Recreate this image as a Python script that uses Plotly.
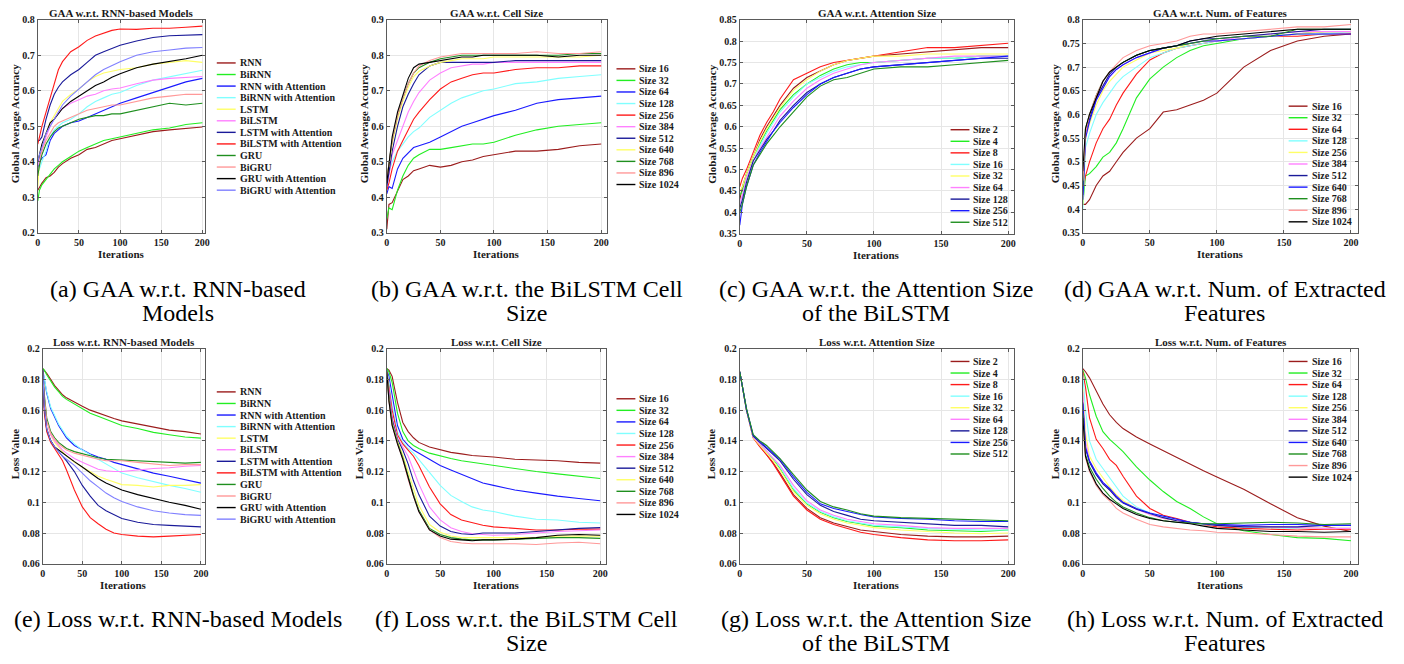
import plotly.graph_objects as go

W, H = 1404, 664
SERIF = "Liberation Serif"

ITER = [0, 2, 5, 10, 15, 20, 25, 30, 40, 50, 60, 70, 80, 90, 100, 120, 140, 160, 180, 200]

# ---------- series names ----------
MODEL_NAMES = ["RNN", "BiRNN", "RNN with Attention", "BiRNN with Attention", "LSTM", "BiLSTM",
               "LSTM with Attention", "BiLSTM with Attention", "GRU", "BiGRU",
               "GRU with Attention", "BiGRU with Attention"]
CELL_NAMES = ["Size 16", "Size 32", "Size 64", "Size 128", "Size 256", "Size 384", "Size 512",
              "Size 640", "Size 768", "Size 896", "Size 1024"]
ATT_NAMES = ["Size 2", "Size 4", "Size 8", "Size 16", "Size 32", "Size 64", "Size 128",
             "Size 256", "Size 512"]
FEAT_NAMES = CELL_NAMES

# ---------- colours ----------
DRED, BGREEN, BLUE, CYAN, YELLOW, MAGENTA = "#9b1c1c", "#22ee22", "#1a1aff", "#80ffff", "#ffff66", "#ff80ff"
NAVY, RED, DGREEN, PINK, BLACK, PERI = "#1a1a99", "#ff1a1a", "#1f8f1f", "#ff9999", "#000000", "#8080ff"
MODEL_COLORS = [DRED, BGREEN, BLUE, CYAN, YELLOW, MAGENTA, NAVY, RED, DGREEN, PINK, BLACK, PERI]
CELL_COLORS = [DRED, BGREEN, BLUE, CYAN, RED, MAGENTA, NAVY, YELLOW, DGREEN, PINK, BLACK]
ATT_COLORS = [DRED, BGREEN, RED, CYAN, YELLOW, MAGENTA, NAVY, BLUE, DGREEN]
FEAT_COLORS = [DRED, BGREEN, RED, CYAN, YELLOW, MAGENTA, NAVY, BLUE, DGREEN, PINK, BLACK]

# ---------- (a) GAA w.r.t. RNN-based models ----------
A_RNN = [0.32, 0.33, 0.34, 0.355, 0.36, 0.37, 0.385, 0.395, 0.41, 0.42, 0.435, 0.44, 0.45, 0.46, 0.465, 0.475, 0.485, 0.49, 0.495, 0.498]
A_BIRNN = [0.29, 0.32, 0.335, 0.35, 0.365, 0.38, 0.39, 0.40, 0.415, 0.43, 0.44, 0.45, 0.46, 0.465, 0.47, 0.48, 0.49, 0.495, 0.505, 0.51]
A_RNN_ATT = [0.38, 0.40, 0.41, 0.42, 0.46, 0.48, 0.49, 0.50, 0.51, 0.515, 0.525, 0.535, 0.545, 0.555, 0.565, 0.58, 0.595, 0.61, 0.625, 0.635]
A_BIRNN_ATT = [0.37, 0.38, 0.40, 0.43, 0.47, 0.49, 0.50, 0.51, 0.52, 0.535, 0.555, 0.57, 0.58, 0.59, 0.595, 0.615, 0.63, 0.64, 0.65, 0.658]
A_LSTM = [0.33, 0.40, 0.44, 0.48, 0.51, 0.53, 0.55, 0.57, 0.59, 0.605, 0.625, 0.64, 0.65, 0.655, 0.66, 0.665, 0.675, 0.68, 0.685, 0.68]
A_BILSTM = [0.39, 0.40, 0.43, 0.47, 0.50, 0.52, 0.54, 0.55, 0.565, 0.575, 0.585, 0.59, 0.60, 0.605, 0.608, 0.62, 0.63, 0.635, 0.638, 0.64]
A_LSTM_ATT = [0.46, 0.46, 0.47, 0.52, 0.56, 0.59, 0.61, 0.625, 0.645, 0.66, 0.68, 0.70, 0.71, 0.72, 0.728, 0.74, 0.75, 0.755, 0.757, 0.758]
A_BILSTM_ATT = [0.45, 0.47, 0.50, 0.54, 0.58, 0.62, 0.659, 0.682, 0.71, 0.724, 0.742, 0.754, 0.763, 0.77, 0.774, 0.773, 0.776, 0.776, 0.779, 0.782]
A_GRU = [0.36, 0.39, 0.42, 0.45, 0.47, 0.485, 0.495, 0.50, 0.51, 0.52, 0.525, 0.53, 0.53, 0.535, 0.535, 0.545, 0.555, 0.565, 0.56, 0.565]
A_BIGRU = [0.40, 0.41, 0.43, 0.46, 0.48, 0.50, 0.51, 0.515, 0.525, 0.535, 0.545, 0.55, 0.555, 0.56, 0.56, 0.57, 0.58, 0.585, 0.59, 0.59]
A_GRU_ATT = [0.40, 0.42, 0.45, 0.48, 0.51, 0.52, 0.535, 0.55, 0.57, 0.585, 0.60, 0.615, 0.625, 0.638, 0.648, 0.665, 0.675, 0.682, 0.69, 0.70]
A_BIGRU_ATT = [0.40, 0.42, 0.44, 0.48, 0.50, 0.52, 0.54, 0.56, 0.585, 0.605, 0.625, 0.645, 0.66, 0.672, 0.682, 0.70, 0.71, 0.715, 0.72, 0.722]

# ---------- (b) GAA w.r.t. cell size ----------
B_16 = [0.31, 0.38, 0.385, 0.42, 0.45, 0.46, 0.475, 0.48, 0.49, 0.485, 0.49, 0.50, 0.505, 0.515, 0.52, 0.53, 0.53, 0.535, 0.545, 0.55]
B_32 = [0.34, 0.37, 0.365, 0.42, 0.46, 0.49, 0.51, 0.52, 0.535, 0.535, 0.54, 0.545, 0.55, 0.55, 0.555, 0.575, 0.59, 0.60, 0.605, 0.61]
B_64 = [0.41, 0.43, 0.425, 0.48, 0.51, 0.525, 0.54, 0.545, 0.555, 0.57, 0.585, 0.60, 0.61, 0.62, 0.63, 0.645, 0.665, 0.675, 0.68, 0.685]
B_128 = [0.42, 0.47, 0.50, 0.53, 0.55, 0.57, 0.585, 0.595, 0.625, 0.645, 0.665, 0.68, 0.69, 0.70, 0.705, 0.72, 0.725, 0.735, 0.74, 0.745]
B_256 = [0.42, 0.44, 0.48, 0.53, 0.56, 0.59, 0.62, 0.64, 0.675, 0.705, 0.725, 0.735, 0.745, 0.75, 0.75, 0.76, 0.765, 0.765, 0.77, 0.77]
B_384 = [0.43, 0.46, 0.52, 0.56, 0.60, 0.64, 0.67, 0.695, 0.73, 0.75, 0.765, 0.77, 0.775, 0.775, 0.78, 0.78, 0.78, 0.78, 0.78, 0.78]
B_512 = [0.43, 0.47, 0.53, 0.60, 0.655, 0.69, 0.72, 0.745, 0.77, 0.78, 0.78, 0.78, 0.78, 0.78, 0.78, 0.785, 0.785, 0.785, 0.785, 0.785]
B_640 = [0.46, 0.49, 0.55, 0.62, 0.67, 0.71, 0.74, 0.755, 0.77, 0.78, 0.785, 0.79, 0.79, 0.79, 0.795, 0.795, 0.795, 0.795, 0.795, 0.80]
B_768 = [0.45, 0.50, 0.56, 0.63, 0.68, 0.72, 0.75, 0.765, 0.78, 0.79, 0.795, 0.80, 0.80, 0.80, 0.80, 0.80, 0.80, 0.80, 0.805, 0.805]
B_896 = [0.45, 0.50, 0.56, 0.63, 0.68, 0.72, 0.75, 0.77, 0.785, 0.795, 0.80, 0.805, 0.805, 0.805, 0.805, 0.805, 0.81, 0.805, 0.805, 0.81]
B_1024 = [0.44, 0.50, 0.57, 0.64, 0.69, 0.735, 0.765, 0.775, 0.78, 0.785, 0.79, 0.795, 0.795, 0.80, 0.80, 0.80, 0.80, 0.795, 0.80, 0.80]

# ---------- (c) GAA w.r.t. attention size ----------
C_2 = [0.43, 0.46, 0.49, 0.53, 0.57, 0.60, 0.625, 0.65, 0.69, 0.715, 0.73, 0.745, 0.755, 0.76, 0.765, 0.77, 0.775, 0.78, 0.785, 0.785]
C_4 = [0.44, 0.45, 0.49, 0.53, 0.56, 0.59, 0.615, 0.64, 0.675, 0.70, 0.72, 0.735, 0.745, 0.75, 0.75, 0.755, 0.76, 0.76, 0.765, 0.765]
C_8 = [0.46, 0.48, 0.50, 0.54, 0.58, 0.61, 0.635, 0.665, 0.71, 0.725, 0.74, 0.75, 0.755, 0.76, 0.765, 0.775, 0.785, 0.785, 0.79, 0.795]
C_16 = [0.42, 0.44, 0.48, 0.52, 0.555, 0.585, 0.61, 0.635, 0.67, 0.70, 0.715, 0.73, 0.74, 0.745, 0.75, 0.755, 0.76, 0.76, 0.765, 0.765]
C_32 = [0.45, 0.46, 0.49, 0.53, 0.565, 0.595, 0.62, 0.645, 0.685, 0.71, 0.73, 0.745, 0.755, 0.76, 0.765, 0.765, 0.77, 0.77, 0.77, 0.77]
C_64 = [0.42, 0.44, 0.48, 0.52, 0.55, 0.575, 0.60, 0.625, 0.66, 0.69, 0.71, 0.725, 0.735, 0.745, 0.75, 0.755, 0.76, 0.765, 0.765, 0.765]
C_128 = [0.41, 0.43, 0.47, 0.52, 0.545, 0.57, 0.59, 0.615, 0.65, 0.68, 0.70, 0.715, 0.725, 0.735, 0.74, 0.745, 0.75, 0.755, 0.76, 0.76]
C_256 = [0.37, 0.42, 0.46, 0.51, 0.54, 0.565, 0.59, 0.61, 0.645, 0.675, 0.70, 0.715, 0.725, 0.735, 0.74, 0.745, 0.75, 0.755, 0.76, 0.765]
C_512 = [0.40, 0.42, 0.46, 0.51, 0.535, 0.56, 0.58, 0.60, 0.635, 0.67, 0.695, 0.71, 0.715, 0.725, 0.735, 0.74, 0.74, 0.745, 0.75, 0.755]

# ---------- (d) GAA w.r.t. number of features ----------
D_16 = [0.41, 0.41, 0.42, 0.45, 0.47, 0.48, 0.50, 0.52, 0.55, 0.57, 0.605, 0.61, 0.62, 0.63, 0.645, 0.70, 0.735, 0.755, 0.765, 0.77]
D_32 = [0.41, 0.47, 0.475, 0.49, 0.51, 0.52, 0.54, 0.57, 0.635, 0.675, 0.70, 0.72, 0.735, 0.745, 0.75, 0.76, 0.765, 0.77, 0.775, 0.775]
D_64 = [0.44, 0.47, 0.50, 0.54, 0.57, 0.59, 0.62, 0.645, 0.685, 0.715, 0.73, 0.74, 0.745, 0.75, 0.755, 0.76, 0.765, 0.765, 0.77, 0.77]
D_128 = [0.40, 0.53, 0.56, 0.60, 0.625, 0.645, 0.665, 0.68, 0.70, 0.72, 0.73, 0.74, 0.745, 0.75, 0.755, 0.76, 0.765, 0.77, 0.77, 0.775]
D_256 = [0.41, 0.55, 0.58, 0.62, 0.65, 0.67, 0.685, 0.70, 0.715, 0.73, 0.735, 0.74, 0.75, 0.755, 0.755, 0.76, 0.765, 0.77, 0.775, 0.775]
D_384 = [0.44, 0.55, 0.59, 0.63, 0.66, 0.68, 0.695, 0.705, 0.72, 0.73, 0.74, 0.745, 0.75, 0.755, 0.755, 0.765, 0.77, 0.775, 0.775, 0.775]
D_512 = [0.43, 0.56, 0.59, 0.635, 0.66, 0.685, 0.70, 0.71, 0.725, 0.735, 0.74, 0.745, 0.755, 0.76, 0.76, 0.765, 0.77, 0.775, 0.78, 0.78]
D_640 = [0.42, 0.55, 0.585, 0.63, 0.655, 0.68, 0.695, 0.705, 0.72, 0.73, 0.74, 0.745, 0.75, 0.755, 0.755, 0.76, 0.765, 0.77, 0.77, 0.77]
D_768 = [0.45, 0.57, 0.60, 0.64, 0.67, 0.69, 0.70, 0.71, 0.725, 0.735, 0.74, 0.745, 0.75, 0.755, 0.76, 0.765, 0.765, 0.78, 0.78, 0.78]
D_896 = [0.46, 0.56, 0.60, 0.64, 0.67, 0.69, 0.705, 0.72, 0.735, 0.745, 0.75, 0.755, 0.765, 0.77, 0.77, 0.775, 0.78, 0.785, 0.785, 0.79]
D_1024 = [0.48, 0.57, 0.60, 0.635, 0.67, 0.69, 0.70, 0.71, 0.725, 0.735, 0.74, 0.745, 0.755, 0.76, 0.765, 0.77, 0.775, 0.78, 0.78, 0.78]

# ---------- (e) Loss w.r.t. RNN-based models ----------
E_RNN = [0.187, 0.186, 0.184, 0.180, 0.176, 0.173, 0.170, 0.168, 0.165, 0.1625, 0.160, 0.158, 0.156, 0.1545, 0.153, 0.151, 0.149, 0.147, 0.146, 0.1445]
E_BIRNN = [0.187, 0.186, 0.183, 0.179, 0.175, 0.172, 0.169, 0.167, 0.164, 0.161, 0.158, 0.156, 0.154, 0.152, 0.150, 0.148, 0.1455, 0.144, 0.1425, 0.1418]
E_RNN_ATT = [0.186, 0.180, 0.171, 0.161, 0.155, 0.150, 0.146, 0.142, 0.137, 0.134, 0.1315, 0.1295, 0.128, 0.126, 0.1245, 0.122, 0.119, 0.117, 0.1145, 0.1125]
E_BIRNN_ATT = [0.186, 0.180, 0.172, 0.162, 0.156, 0.151, 0.147, 0.143, 0.138, 0.134, 0.131, 0.128, 0.125, 0.122, 0.119, 0.116, 0.1135, 0.111, 0.109, 0.1065]
E_LSTM = [0.185, 0.168, 0.153, 0.144, 0.139, 0.136, 0.133, 0.130, 0.126, 0.123, 0.120, 0.117, 0.115, 0.113, 0.1115, 0.111, 0.110, 0.111, 0.111, 0.1115]
E_BILSTM = [0.185, 0.168, 0.153, 0.144, 0.140, 0.137, 0.134, 0.132, 0.1285, 0.126, 0.1235, 0.1215, 0.1205, 0.120, 0.120, 0.121, 0.122, 0.1225, 0.1235, 0.124]
E_LSTM_ATT = [0.186, 0.160, 0.147, 0.140, 0.136, 0.133, 0.130, 0.127, 0.120, 0.111, 0.104, 0.098, 0.0945, 0.092, 0.0895, 0.087, 0.0855, 0.085, 0.0845, 0.084]
E_BILSTM_ATT = [0.186, 0.158, 0.146, 0.139, 0.135, 0.131, 0.127, 0.121, 0.108, 0.097, 0.090, 0.086, 0.0825, 0.080, 0.079, 0.078, 0.0775, 0.078, 0.0785, 0.079]
E_GRU = [0.187, 0.170, 0.155, 0.146, 0.142, 0.139, 0.137, 0.135, 0.133, 0.1315, 0.130, 0.129, 0.128, 0.1278, 0.1275, 0.127, 0.1265, 0.126, 0.1255, 0.126]
E_BIGRU = [0.186, 0.168, 0.153, 0.145, 0.141, 0.138, 0.136, 0.134, 0.132, 0.1305, 0.129, 0.128, 0.127, 0.127, 0.127, 0.126, 0.125, 0.124, 0.1245, 0.1245]
E_GRU_ATT = [0.186, 0.162, 0.148, 0.140, 0.136, 0.134, 0.132, 0.130, 0.1265, 0.123, 0.119, 0.1155, 0.1125, 0.110, 0.108, 0.105, 0.1025, 0.100, 0.098, 0.0955]
E_BIGRU_ATT = [0.186, 0.162, 0.148, 0.140, 0.136, 0.133, 0.130, 0.128, 0.124, 0.119, 0.114, 0.110, 0.106, 0.103, 0.1005, 0.097, 0.0945, 0.093, 0.092, 0.0915]

# ---------- (f) Loss w.r.t. cell size ----------
F_16 = [0.187, 0.186, 0.182, 0.165, 0.152, 0.146, 0.142, 0.139, 0.136, 0.134, 0.1325, 0.1315, 0.1305, 0.130, 0.1295, 0.128, 0.1275, 0.127, 0.126, 0.1255]
F_32 = [0.187, 0.185, 0.178, 0.158, 0.146, 0.140, 0.137, 0.135, 0.132, 0.130, 0.1285, 0.127, 0.126, 0.125, 0.124, 0.122, 0.120, 0.1185, 0.117, 0.1155]
F_64 = [0.186, 0.182, 0.170, 0.150, 0.141, 0.137, 0.134, 0.132, 0.128, 0.124, 0.121, 0.118, 0.115, 0.1125, 0.111, 0.108, 0.106, 0.104, 0.1025, 0.101]
F_128 = [0.186, 0.178, 0.163, 0.146, 0.139, 0.135, 0.132, 0.128, 0.1195, 0.111, 0.1045, 0.1005, 0.097, 0.095, 0.094, 0.091, 0.089, 0.0885, 0.087, 0.0865]
F_256 = [0.185, 0.176, 0.160, 0.144, 0.138, 0.134, 0.130, 0.124, 0.110, 0.099, 0.092, 0.0885, 0.0865, 0.085, 0.084, 0.083, 0.082, 0.082, 0.0825, 0.0825]
F_384 = [0.184, 0.172, 0.156, 0.142, 0.136, 0.130, 0.121, 0.112, 0.097, 0.0885, 0.0835, 0.081, 0.0795, 0.079, 0.0785, 0.079, 0.080, 0.081, 0.0815, 0.082]
F_512 = [0.184, 0.170, 0.154, 0.141, 0.134, 0.125, 0.114, 0.105, 0.091, 0.0845, 0.081, 0.0795, 0.079, 0.080, 0.080, 0.080, 0.081, 0.082, 0.083, 0.0835]
F_640 = [0.185, 0.168, 0.152, 0.140, 0.131, 0.120, 0.108, 0.098, 0.0855, 0.0805, 0.078, 0.077, 0.077, 0.077, 0.077, 0.077, 0.077, 0.078, 0.078, 0.078]
F_768 = [0.187, 0.167, 0.151, 0.139, 0.129, 0.117, 0.105, 0.095, 0.083, 0.079, 0.077, 0.076, 0.0755, 0.0755, 0.0755, 0.076, 0.0765, 0.077, 0.077, 0.0765]
F_896 = [0.185, 0.166, 0.150, 0.138, 0.128, 0.115, 0.104, 0.094, 0.082, 0.077, 0.0745, 0.0735, 0.073, 0.073, 0.073, 0.073, 0.0725, 0.0735, 0.074, 0.073]
F_1024 = [0.185, 0.166, 0.150, 0.138, 0.128, 0.116, 0.104, 0.094, 0.082, 0.078, 0.076, 0.0755, 0.075, 0.0755, 0.0755, 0.076, 0.077, 0.0785, 0.079, 0.0785]

# ---------- (g) Loss w.r.t. attention size ----------
G_2 = [0.185, 0.175, 0.160, 0.142, 0.1365, 0.1315, 0.1255, 0.119, 0.105, 0.096, 0.090, 0.0865, 0.084, 0.082, 0.081, 0.079, 0.078, 0.0775, 0.0775, 0.078]
G_4 = [0.185, 0.175, 0.160, 0.1425, 0.1375, 0.1325, 0.128, 0.122, 0.108, 0.099, 0.0935, 0.090, 0.0875, 0.086, 0.0845, 0.0835, 0.082, 0.0815, 0.081, 0.082]
G_8 = [0.185, 0.175, 0.160, 0.142, 0.136, 0.131, 0.125, 0.118, 0.104, 0.095, 0.089, 0.0855, 0.083, 0.0805, 0.079, 0.077, 0.0755, 0.075, 0.075, 0.0755]
G_16 = [0.185, 0.175, 0.160, 0.1425, 0.1375, 0.133, 0.1285, 0.123, 0.109, 0.0995, 0.094, 0.0905, 0.088, 0.0865, 0.085, 0.084, 0.083, 0.0825, 0.082, 0.082]
G_32 = [0.185, 0.175, 0.160, 0.142, 0.137, 0.132, 0.127, 0.121, 0.107, 0.098, 0.0925, 0.089, 0.0865, 0.085, 0.0835, 0.082, 0.081, 0.080, 0.0795, 0.080]
G_64 = [0.185, 0.175, 0.160, 0.1425, 0.138, 0.133, 0.129, 0.124, 0.111, 0.101, 0.095, 0.0915, 0.089, 0.0875, 0.086, 0.085, 0.0835, 0.083, 0.083, 0.083]
G_128 = [0.185, 0.175, 0.160, 0.143, 0.139, 0.135, 0.131, 0.127, 0.115, 0.105, 0.098, 0.094, 0.0915, 0.089, 0.088, 0.087, 0.086, 0.085, 0.085, 0.084]
G_256 = [0.185, 0.175, 0.161, 0.1435, 0.1395, 0.136, 0.132, 0.128, 0.1165, 0.1065, 0.099, 0.096, 0.094, 0.092, 0.0905, 0.0895, 0.089, 0.088, 0.0875, 0.0875]
G_512 = [0.185, 0.176, 0.161, 0.144, 0.140, 0.137, 0.133, 0.1285, 0.118, 0.108, 0.1005, 0.097, 0.095, 0.0925, 0.091, 0.090, 0.0895, 0.089, 0.0885, 0.088]

# ---------- (h) Loss w.r.t. number of features ----------
H_16 = [0.187, 0.185, 0.181, 0.172, 0.164, 0.157, 0.152, 0.148, 0.1425, 0.138, 0.1335, 0.129, 0.1245, 0.1205, 0.1165, 0.1085, 0.099, 0.090, 0.0845, 0.081]
H_32 = [0.186, 0.181, 0.170, 0.156, 0.146, 0.141, 0.137, 0.133, 0.123, 0.1145, 0.107, 0.1005, 0.096, 0.0905, 0.086, 0.0815, 0.079, 0.077, 0.0765, 0.075]
H_64 = [0.185, 0.175, 0.155, 0.141, 0.135, 0.128, 0.124, 0.117, 0.104, 0.096, 0.0915, 0.0895, 0.087, 0.0855, 0.084, 0.083, 0.0825, 0.082, 0.0825, 0.0825]
H_128 = [0.183, 0.160, 0.140, 0.128, 0.122, 0.116, 0.110, 0.104, 0.097, 0.093, 0.090, 0.088, 0.0865, 0.0855, 0.085, 0.084, 0.0835, 0.083, 0.083, 0.083]
H_256 = [0.174, 0.145, 0.130, 0.122, 0.116, 0.110, 0.105, 0.101, 0.096, 0.092, 0.0895, 0.088, 0.0865, 0.086, 0.085, 0.0845, 0.084, 0.0835, 0.083, 0.083]
H_384 = [0.172, 0.140, 0.127, 0.119, 0.113, 0.108, 0.104, 0.100, 0.0955, 0.092, 0.0895, 0.088, 0.087, 0.086, 0.085, 0.0845, 0.084, 0.0835, 0.083, 0.083]
H_512 = [0.165, 0.135, 0.126, 0.118, 0.112, 0.108, 0.103, 0.0995, 0.0955, 0.0925, 0.090, 0.088, 0.087, 0.086, 0.085, 0.084, 0.084, 0.084, 0.085, 0.085]
H_640 = [0.164, 0.136, 0.127, 0.119, 0.113, 0.109, 0.104, 0.100, 0.096, 0.093, 0.091, 0.089, 0.087, 0.086, 0.0855, 0.085, 0.0855, 0.0855, 0.085, 0.085]
H_768 = [0.158, 0.131, 0.123, 0.115, 0.109, 0.104, 0.100, 0.097, 0.093, 0.090, 0.088, 0.087, 0.0865, 0.086, 0.086, 0.0865, 0.087, 0.0865, 0.0855, 0.086]
H_896 = [0.152, 0.129, 0.120, 0.111, 0.105, 0.101, 0.096, 0.093, 0.089, 0.0855, 0.084, 0.083, 0.082, 0.0815, 0.0805, 0.080, 0.079, 0.078, 0.0775, 0.0775]
H_1024 = [0.155, 0.130, 0.121, 0.112, 0.106, 0.102, 0.099, 0.096, 0.092, 0.0895, 0.088, 0.087, 0.086, 0.0845, 0.083, 0.082, 0.081, 0.081, 0.0805, 0.081]

# ---------- tick labels ----------
X_TICKS = [0, 50, 100, 150, 200]
Y_TICKS_A = [0.2, 0.3, 0.4, 0.5, 0.6, 0.7, 0.8]
Y_TICKS_B = [0.3, 0.4, 0.5, 0.6, 0.7, 0.8, 0.9]
Y_TICKS_C = [0.35, 0.4, 0.45, 0.5, 0.55, 0.6, 0.65, 0.7, 0.75, 0.8, 0.85]
Y_TICKS_D = [0.35, 0.4, 0.45, 0.5, 0.55, 0.6, 0.65, 0.7, 0.75, 0.8]
Y_TICKS_LOSS = [0.06, 0.08, 0.1, 0.12, 0.14, 0.16, 0.18, 0.2]

TITLES = ["GAA w.r.t. RNN-based Models", "GAA w.r.t. Cell Size", "GAA w.r.t. Attention Size",
          "GAA w.r.t. Num. of Features", "Loss w.r.t. RNN-based Models", "Loss w.r.t. Cell Size",
          "Loss w.r.t. Attention Size", "Loss w.r.t. Num. of Features"]
CAPTIONS = [("(a) GAA w.r.t. RNN-based", "Models"), ("(b) GAA w.r.t. the BiLSTM Cell", "Size"),
            ("(c) GAA w.r.t. the Attention Size", "of the BiLSTM"), ("(d) GAA w.r.t. Num. of Extracted", "Features"),
            ("(e) Loss w.r.t. RNN-based Models", ""), ("(f) Loss w.r.t. the BiLSTM Cell", "Size"),
            ("(g) Loss w.r.t. the Attention Size", "of the BiLSTM"), ("(h) Loss w.r.t. Num. of Extracted", "Features")]

# ---------- assemble panels ----------
panels = [
    dict(series=[A_RNN, A_BIRNN, A_RNN_ATT, A_BIRNN_ATT, A_LSTM, A_BILSTM, A_LSTM_ATT, A_BILSTM_ATT, A_GRU, A_BIGRU, A_GRU_ATT, A_BIGRU_ATT],
         names=MODEL_NAMES, colors=MODEL_COLORS, yt=Y_TICKS_A, ylab="Global Average Accuracy",
         box=(35, 203, 14, 231), xmax=203, leg=(215, 58), ylx=12),
    dict(series=[B_16, B_32, B_64, B_128, B_256, B_384, B_512, B_640, B_768, B_896, B_1024],
         names=CELL_NAMES, colors=CELL_COLORS, yt=Y_TICKS_B, ylab="Global Average Accuracy",
         box=(386, 607, 14, 231), xmax=205, leg=(617, 64), ylx=363),
    dict(series=[C_2, C_4, C_8, C_16, C_32, C_64, C_128, C_256, C_512],
         names=ATT_NAMES, colors=ATT_COLORS, yt=Y_TICKS_C, ylab="Global Average Accuracy",
         box=(741, 1017, 14, 232), xmax=204.5, leg=(953, 126), ylx=713),
    dict(series=[D_16, D_32, D_64, D_128, D_256, D_384, D_512, D_640, D_768, D_896, D_1024],
         names=FEAT_NAMES, colors=FEAT_COLORS, yt=Y_TICKS_D, ylab="Global Average Accuracy",
         box=(1086, 1363, 14, 231), xmax=205.4, leg=(1293, 102), ylx=1058),
    dict(series=[E_RNN, E_BIRNN, E_RNN_ATT, E_BIRNN_ATT, E_LSTM, E_BILSTM, E_LSTM_ATT, E_BILSTM_ATT, E_GRU, E_BIGRU, E_GRU_ATT, E_BIGRU_ATT],
         names=MODEL_NAMES, colors=MODEL_COLORS, yt=Y_TICKS_LOSS, ylab="Loss Value",
         box=(40, 203, 349, 568), xmax=205, leg=(215, 393), ylx=12),
    dict(series=[F_16, F_32, F_64, F_128, F_256, F_384, F_512, F_640, F_768, F_896, F_1024],
         names=CELL_NAMES, colors=CELL_COLORS, yt=Y_TICKS_LOSS, ylab="Loss Value",
         box=(386, 606, 349, 568), xmax=205, leg=(617, 400), ylx=358),
    dict(series=[G_2, G_4, G_8, G_16, G_32, G_64, G_128, G_256, G_512],
         names=ATT_NAMES, colors=ATT_COLORS, yt=Y_TICKS_LOSS, ylab="Loss Value",
         box=(741, 1017, 349, 568), xmax=204.5, leg=(953, 362), ylx=712),
    dict(series=[H_16, H_32, H_64, H_128, H_256, H_384, H_512, H_640, H_768, H_896, H_1024],
         names=FEAT_NAMES, colors=FEAT_COLORS, yt=Y_TICKS_LOSS, ylab="Loss Value",
         box=(1086, 1363, 349, 568), xmax=205.4, leg=(1293, 362), ylx=1058),
]


def px(x):
    return x / W


def py(y):
    return 1 - y / H


fig = go.Figure()
layout = dict(width=W, height=H, margin=dict(l=0, r=0, t=0, b=0), paper_bgcolor="white",
              plot_bgcolor="white", showlegend=False, hovermode=False)
annotations = []
shapes = []
LEG_DY = 11.78
TXT = "#1a1a1a"
AX = "#5a5a5a"

for i, p in enumerate(panels):
    k = "" if i == 0 else str(i + 1)
    x0, x1, y0, y1 = p["box"]
    for s, n, c in zip(p["series"], p["names"], p["colors"]):
        fig.add_trace(go.Scatter(x=ITER, y=s, name=n, mode="lines", line=dict(color=c, width=1.1),
                                 xaxis="x" + k, yaxis="y" + k))
    yt = p["yt"]
    layout["xaxis" + k] = dict(domain=[px(x0), px(x1)], anchor="y" + k, range=[0, p["xmax"]],
                               tickvals=X_TICKS, ticktext=[str(v) for v in X_TICKS],
                               showgrid=True, gridcolor="#e6e6e6", gridwidth=1, zeroline=False,
                               showline=True, linecolor=AX, linewidth=1, mirror="ticks",
                               ticks="inside", ticklen=3, tickcolor=AX,
                               tickfont=dict(family=SERIF, size=10, color=TXT, weight="bold"))
    layout["yaxis" + k] = dict(domain=[py(y1), py(y0)], anchor="x" + k, range=[yt[0], yt[-1]],
                               tickvals=yt, ticktext=[f"{v:g}" for v in yt],
                               showgrid=True, gridcolor="#e6e6e6", gridwidth=1, zeroline=False,
                               showline=True, linecolor=AX, linewidth=1, mirror="ticks",
                               ticks="inside", ticklen=3, tickcolor=AX,
                               tickfont=dict(family=SERIF, size=10, color=TXT, weight="bold"))
    cx = (x0 + x1) / 2
    # panel title
    annotations.append(dict(xref="paper", yref="paper", x=px(cx), y=py(y0 - 7), text=f"<b>{TITLES[i]}</b>",
                            showarrow=False, xanchor="center", yanchor="middle",
                            font=dict(family=SERIF, size=11, color=TXT)))
    # x axis title
    annotations.append(dict(xref="paper", yref="paper", x=px(cx), y=py(y1 + 22), text="<b>Iterations</b>",
                            showarrow=False, xanchor="center", yanchor="middle",
                            font=dict(family=SERIF, size=11, color=TXT)))
    # y axis title
    annotations.append(dict(xref="paper", yref="paper", x=px(p["ylx"]), y=py((y0 + y1) / 2 - 3),
                            text=f"<b>{p['ylab']}</b>", textangle=-90,
                            showarrow=False, xanchor="center", yanchor="middle",
                            font=dict(family=SERIF, size=11, color=TXT)))
    # legend (drawn manually to match MATLAB compact spacing)
    lx, ly = p["leg"]
    for j, (n, c) in enumerate(zip(p["names"], p["colors"])):
        yy = ly + j * LEG_DY
        shapes.append(dict(type="line", xref="paper", yref="paper", x0=px(lx), x1=px(lx + 19),
                           y0=py(yy), y1=py(yy), line=dict(color=c, width=1.4)))
        annotations.append(dict(xref="paper", yref="paper", x=px(lx + 21), y=py(yy), text=f"<b>{n}</b>",
                                showarrow=False, xanchor="left", yanchor="middle",
                                font=dict(family=SERIF, size=10, color=TXT)))
    # caption
    col_c = (i % 4) * 351 + 175.5
    base = 288 if i < 4 else 624
    l1, l2 = CAPTIONS[i]
    annotations.append(dict(xref="paper", yref="paper", x=px(col_c), y=py(base), text=l1,
                            showarrow=False, xanchor="center", yanchor="middle",
                            font=dict(family=SERIF, size=24, color="#000")))
    if l2:
        annotations.append(dict(xref="paper", yref="paper", x=px(col_c), y=py(base + 25), text=l2,
                                showarrow=False, xanchor="center", yanchor="middle",
                                font=dict(family=SERIF, size=24, color="#000")))

layout["annotations"] = annotations
layout["shapes"] = shapes
fig.update_layout(**layout)
fig.write_html("out.html", config={"displayModeBar": False, "staticPlot": True},
               post_script="document.body.style.margin='0px';document.body.style.overflow='hidden';")
